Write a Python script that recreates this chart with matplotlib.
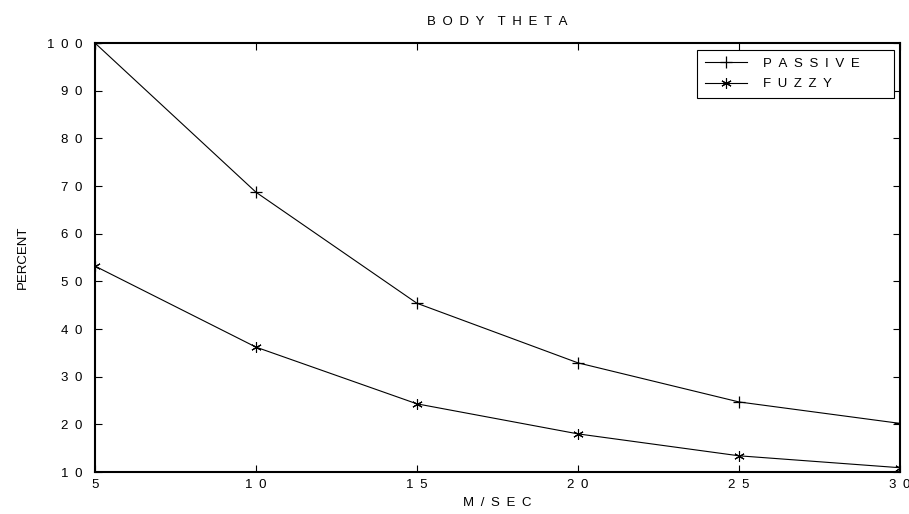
import numpy as np
import matplotlib
matplotlib.use('Agg')
import matplotlib.pyplot as plt

# data
speed = [5, 10, 15, 20, 25, 30]
passive = [100, 68.7, 45.4, 32.9, 24.7, 20.2]
fuzzy = [53.2, 36.2, 24.3, 18.0, 13.4, 10.9]
xticks = [5, 10, 15, 20, 25, 30]
yticks = [10, 20, 30, 40, 50, 60, 70, 80, 90, 100]

EN = '\u2002'


def spaced(s):
    # old plot style: letters spread out
    words = str(s).split(' ')
    return (EN * 2).join(EN.join(w) for w in words)


plt.rcParams['font.family'] = ['Liberation Sans', 'DejaVu Sans']
plt.rcParams['font.size'] = 9.5

fig = plt.figure(figsize=(9.09, 5.14), dpi=100)
ax = fig.add_axes([0.1045, 0.0817, 0.8855, 0.8346])

asterisk = (6, 2, 0)
# trailing blanks keep the legend box as wide as the original one
ax.plot(speed, passive, color='black', linewidth=0.8, marker='+',
        markersize=8, markeredgewidth=0.9, label=spaced('PASSIVE') + EN * 4)
ax.plot(speed, fuzzy, color='black', linewidth=0.8, marker=asterisk,
        markersize=7.5, markeredgewidth=0.8, label=spaced('FUZZY'))

ax.set_xlim(5, 30)
ax.set_ylim(10, 100)
ax.set_xticks(xticks)
ax.set_xticklabels([spaced(v) for v in xticks])
ax.set_yticks(yticks)
ax.set_yticklabels([spaced(v) for v in yticks])
ax.tick_params(direction='in', length=5, width=0.8, top=True, right=True)
ax.tick_params(axis='x', pad=5)
ax.tick_params(axis='y', pad=9)

for sp in ax.spines.values():
    sp.set_linewidth(1.5)

ax.set_title(spaced('BODY THETA'), fontsize=9.5, pad=13)
ax.set_xlabel(spaced('M/SEC'), labelpad=4)
ax.set_ylabel('PERCENT', labelpad=13)

leg = ax.legend(loc='upper right', bbox_to_anchor=(0.9925, 0.984), borderaxespad=0,
                fancybox=False, edgecolor='black', framealpha=1, handlelength=3.2,
                borderpad=0.6, labelspacing=0.6, handletextpad=1.2)
leg.get_frame().set_linewidth(0.8)

fig.savefig('out.png', dpi=100)
